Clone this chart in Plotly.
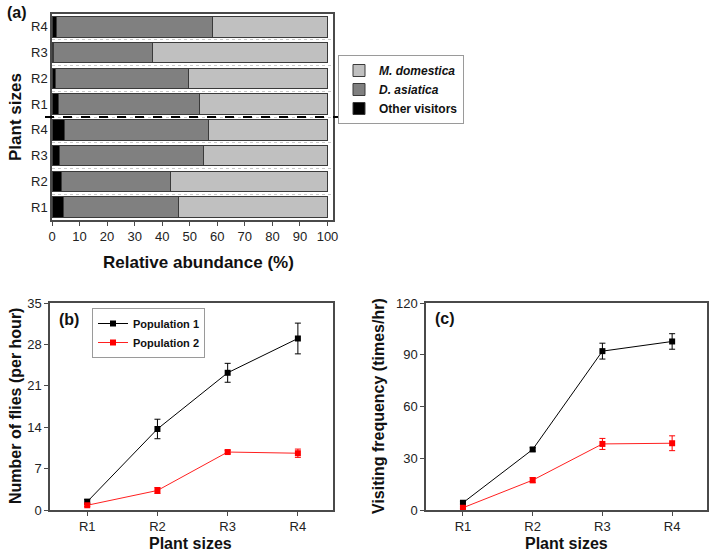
import plotly.graph_objects as go

# ---------------- data ----------------
sizes = ["R1", "R2", "R3", "R4"]

# Panel (a): relative abundance (%) - lower group (below dashed line) and upper group
other_low = [4.1, 3.6, 2.8, 4.7]
dasi_low = [41.7, 39.4, 52.1, 52.0]
mdom_low = [54.2, 57.0, 45.1, 43.3]
other_up = [2.4, 1.1, 0.5, 1.8]
dasi_up = [51.3, 48.5, 36.0, 56.5]
mdom_up = [46.3, 50.4, 63.5, 41.7]

# Panel (b): number of flies per hour
flies_p1 = [1.4, 13.7, 23.2, 29.0]
flies_p1_err = [0.4, 1.65, 1.6, 2.6]
flies_p2 = [0.8, 3.3, 9.8, 9.6]
flies_p2_err = [0.2, 0.5, 0.3, 0.7]

# Panel (c): visiting frequency (times/hr)
visit_p1 = [4.2, 35.1, 92.1, 97.7]
visit_p1_err = [0.8, 1.0, 4.6, 4.5]
visit_p2 = [1.3, 17.3, 38.3, 38.7]
visit_p2_err = [0.5, 1.5, 3.2, 4.3]

x_ticks_a = [0, 10, 20, 30, 40, 50, 60, 70, 80, 90, 100]
y_ticks_b = [0, 7, 14, 21, 28, 35]
y_ticks_c = [0, 30, 60, 90, 120]

# ---------------- figure ----------------
W, H = 709, 551
FONT = "Liberation Sans, Arial, sans-serif"
AX = "#4a4a4a"

def px_x(x0, x1):
    return [x0 / W, x1 / W]

def px_y(top, bottom):
    return [1 - bottom / H, 1 - top / H]

row_labels = sizes + sizes
row_pos = list(range(len(row_labels)))
other_all = other_low + other_up
dasi_all = dasi_low + dasi_up
mdom_all = mdom_low + mdom_up

fig = go.Figure()
bar_line = dict(color="#3a3a3a", width=1)
fig.add_trace(go.Bar(y=row_pos, x=other_all, orientation="h", name="Other visitors",
                     marker=dict(color="#000000", line=bar_line), width=0.8,
                     xaxis="x", yaxis="y", legend="legend",
                     legendrank=3))
fig.add_trace(go.Bar(y=row_pos, x=dasi_all, orientation="h", name="<i>D. asiatica</i>",
                     marker=dict(color="#808080", line=bar_line), width=0.8,
                     xaxis="x", yaxis="y", legend="legend", legendrank=2))
fig.add_trace(go.Bar(y=row_pos, x=mdom_all, orientation="h", name="<i>M. domestica</i>",
                     marker=dict(color="#c0c0c0", line=bar_line), width=0.8,
                     xaxis="x", yaxis="y", legend="legend", legendrank=1))

# Panel (b)
fig.add_trace(go.Scatter(x=sizes, y=flies_p1, mode="lines+markers", name="Population 1",
                         line=dict(color="black", width=1),
                         marker=dict(symbol="square", size=6, color="black"),
                         error_y=dict(type="data", array=flies_p1_err, color="black",
                                      thickness=1, width=3),
                         xaxis="x2", yaxis="y2", legend="legend2"))
fig.add_trace(go.Scatter(x=sizes, y=flies_p2, mode="lines+markers", name="Population 2",
                         line=dict(color="#ff2020", width=1),
                         marker=dict(symbol="square", size=6, color="#ff0000"),
                         error_y=dict(type="data", array=flies_p2_err, color="#ff0000",
                                      thickness=1, width=3),
                         xaxis="x2", yaxis="y2", legend="legend2"))
# Panel (c)
fig.add_trace(go.Scatter(x=sizes, y=visit_p1, mode="lines+markers", name="Population 1",
                         line=dict(color="black", width=1),
                         marker=dict(symbol="square", size=6, color="black"),
                         error_y=dict(type="data", array=visit_p1_err, color="black",
                                      thickness=1, width=3),
                         xaxis="x3", yaxis="y3", showlegend=False))
fig.add_trace(go.Scatter(x=sizes, y=visit_p2, mode="lines+markers", name="Population 2",
                         line=dict(color="#ff2020", width=1),
                         marker=dict(symbol="square", size=6, color="#ff0000"),
                         error_y=dict(type="data", array=visit_p2_err, color="#ff0000",
                                      thickness=1, width=3),
                         xaxis="x3", yaxis="y3", showlegend=False))

common_ax = dict(showline=True, linecolor=AX, linewidth=1.5, mirror=True,
                 ticks="outside", ticklen=4, tickcolor=AX, showgrid=False,
                 zeroline=False, automargin=False,
                 tickfont=dict(size=13, color="#222"))

fig.update_layout(
    width=W, height=H, margin=dict(l=0, r=0, t=0, b=0, autoexpand=False),
    paper_bgcolor="white", plot_bgcolor="white",
    font=dict(family=FONT, color="#111"),
    barmode="stack", bargap=0.2,
    xaxis=dict(domain=px_x(52, 333), range=[0, 102], tickvals=x_ticks_a,
               anchor="y", **common_ax),
    yaxis=dict(domain=px_y(14, 220), range=[-0.5, len(row_labels) - 0.5],
               tickvals=row_pos, ticktext=row_labels, anchor="x",
               minor=dict(tickvals=[p + 0.5 for p in row_pos[:-1]], showgrid=True,
                          griddash="dot", gridcolor="#c8c8c8", gridwidth=1, ticks=""),
               **{k: v for k, v in common_ax.items() if k != "ticks"}, ticks=""),
    xaxis2=dict(domain=px_x(50, 333), range=[-0.53, 3.5], type="category",
                anchor="y2", **common_ax),
    yaxis2=dict(domain=px_y(303, 510), range=[0, 35], tickvals=y_ticks_b,
                anchor="x2", **common_ax),
    xaxis3=dict(domain=px_x(426, 707), range=[-0.53, 3.5], type="category",
                anchor="y3", **common_ax),
    yaxis3=dict(domain=px_y(303, 510), range=[0, 120], tickvals=y_ticks_c,
                anchor="x3", **common_ax),
    legend=dict(x=338 / W, y=1 - 55 / H, xanchor="left", yanchor="top",
                bordercolor="#9a9a9a", borderwidth=1, bgcolor="white",
                font=dict(size=12, color="#111", weight="bold"),
                traceorder="normal", itemwidth=30, tracegroupgap=0),
    legend2=dict(x=92 / W, y=1 - 308 / H, xanchor="left", yanchor="top",
                 bordercolor="#9a9a9a", borderwidth=1, bgcolor="white",
                 font=dict(size=11, color="#111", weight="bold"),
                 traceorder="normal", itemwidth=30, tracegroupgap=0),
    showlegend=True,
)

# dashed separator between the two groups of panel (a)
fig.add_shape(type="line", xref="paper", yref="y", x0=45 / W, x1=340 / W,
              y0=(len(sizes) - 0.5), y1=(len(sizes) - 0.5),
              line=dict(color="black", width=2, dash="dash"))

def ann(text, x, y, size, angle=0, **kw):
    fig.add_annotation(text=text, x=x / W, y=1 - y / H, xref="paper", yref="paper",
                       showarrow=False, textangle=angle, xanchor="center",
                       yanchor="middle",
                       font=dict(size=size, family=FONT, color="#111", weight="bold"), **kw)

ann("(a)", 17, 12, 16)
ann("(b)", 69, 319, 16)
ann("(c)", 445, 318, 16)
ann("Relative abundance (%)", 198, 262, 17)
ann("Plant sizes", 15, 117, 17, angle=-90)
ann("Plant sizes", 190, 543, 16)
ann("Plant sizes", 566, 543, 16)
ann("Number of flies (per hour)", 15, 406, 16, angle=-90)
ann("Visiting frequency (times/hr)", 378, 406, 16, angle=-90)

fig.write_html("out.html", config={"displayModeBar": False},
               post_script="document.body.style.margin='0px';")
